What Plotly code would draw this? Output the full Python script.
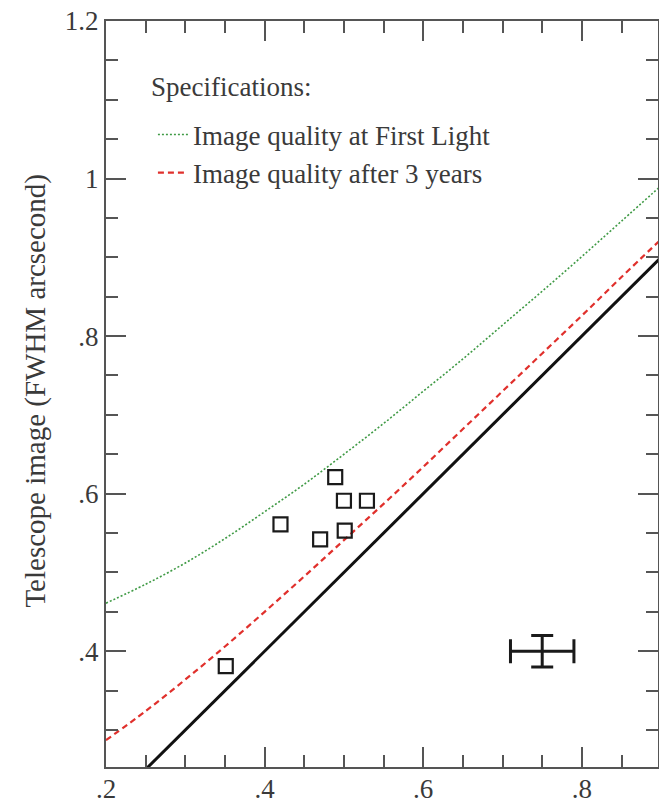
import plotly.graph_objects as go

# ---- data ----
spec_x = [0.20, 0.25, 0.30, 0.35, 0.40, 0.45, 0.50, 0.55, 0.60, 0.65, 0.70, 0.75, 0.80, 0.85, 0.90]
first_light_y = [0.461, 0.485, 0.512, 0.543, 0.577, 0.612, 0.650, 0.689, 0.730, 0.771, 0.814, 0.857, 0.901, 0.946, 0.991]
three_years_y = [0.287, 0.324, 0.364, 0.406, 0.450, 0.495, 0.541, 0.587, 0.634, 0.682, 0.730, 0.778, 0.826, 0.875, 0.923]

ideal_x = [0.25, 0.90]
ideal_y = [0.25, 0.90]

meas_x = [0.351, 0.420, 0.470, 0.489, 0.500, 0.501, 0.529]
meas_y = [0.381, 0.561, 0.542, 0.621, 0.591, 0.553, 0.591]

err_x = [0.75]
err_y = [0.40]
err_dx = [0.04]
err_dy = [0.02]

x_tickvals = [0.2, 0.4, 0.6, 0.8]
x_ticktext = [".2", ".4", ".6", ".8"]
y_tickvals = [0.4, 0.6, 0.8, 1.0, 1.2]
y_ticktext = [".4", ".6", ".8", "1", "1.2"]

FONT = "Liberation Serif"
TXT = "#3a3a3a"
AX = "#555555"

fig = go.Figure()

fig.add_trace(go.Scatter(
    x=spec_x, y=first_light_y, mode="lines", line_shape="spline",
    line=dict(color="#3f9a45", width=1.6, dash="2px,2px"),
    name="Image quality at First Light"))
fig.add_trace(go.Scatter(
    x=spec_x, y=three_years_y, mode="lines", line_shape="spline",
    line=dict(color="#e0302c", width=2.2, dash="6px,4px"),
    name="Image quality after 3 years"))
fig.add_trace(go.Scatter(
    x=ideal_x, y=ideal_y, mode="lines",
    line=dict(color="#111111", width=3), showlegend=False))
fig.add_trace(go.Scatter(
    x=meas_x, y=meas_y, mode="markers",
    marker=dict(symbol="square-open", size=14, color="#1a1a1a", line=dict(width=2.2)),
    showlegend=False, cliponaxis=False))
fig.add_trace(go.Scatter(
    x=err_x, y=err_y, mode="markers",
    marker=dict(size=1, color="rgba(0,0,0,0)"),
    error_x=dict(type="data", array=err_dx, color="#1a1a1a", thickness=3, width=12),
    error_y=dict(type="data", array=err_dy, color="#1a1a1a", thickness=3, width=11),
    showlegend=False))

axis_common = dict(
    showline=True, linecolor=AX, linewidth=2, mirror="allticks",
    ticks="inside", ticklen=20, tickwidth=2, tickcolor=AX,
    showgrid=False, zeroline=False,
    tickfont=dict(family=FONT, size=27, color=TXT),
)

fig.update_xaxes(
    range=[0.2, 0.896], tickmode="array", tickvals=x_tickvals, ticktext=x_ticktext,
    ticklabelstandoff=-3,
    minor=dict(ticks="inside", ticklen=12, tickwidth=2, tickcolor=AX, dtick=0.05, tick0=0.2),
    **axis_common)
fig.update_yaxes(
    range=[0.253, 1.2], tickmode="array", tickvals=y_tickvals, ticktext=y_ticktext,
    minor=dict(ticks="inside", ticklen=12, tickwidth=2, tickcolor=AX, dtick=0.05, tick0=0.2),
    **axis_common)

fig.add_annotation(
    text="Telescope image (FWHM arcsecond)", textangle=-90,
    xref="paper", yref="paper", x=-0.128, y=0.505, xanchor="center", yanchor="middle",
    showarrow=False, font=dict(family=FONT, size=29, color=TXT))

fig.add_annotation(
    text="Specifications:",
    xref="paper", yref="paper", x=0.078, y=0.912, xanchor="left", yanchor="middle",
    showarrow=False, font=dict(family=FONT, size=27, color=TXT))

fig.update_layout(
    width=659, height=803,
    margin=dict(l=106, r=1, t=21, b=36, autoexpand=False),
    paper_bgcolor="white", plot_bgcolor="white",
    showlegend=True,
    legend=dict(
        font=dict(family=FONT, size=27, color=TXT),
        x=0.085, y=0.880, xanchor="left", yanchor="top",
        bgcolor="rgba(0,0,0,0)", borderwidth=0, itemwidth=30,
    ),
)

fig.write_html("out.html", config={"displayModeBar": False},
               post_script="document.body.style.margin='0';")
